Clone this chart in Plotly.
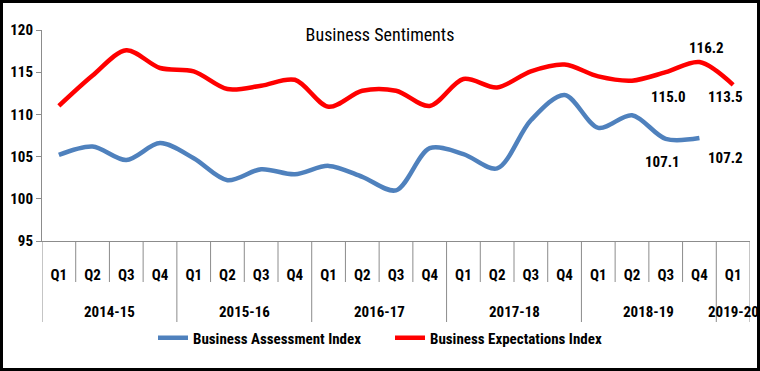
import plotly.graph_objects as go

years = ["2014-15", "2015-16", "2016-17", "2017-18", "2018-19", "2019-20"]
quarters_per_year = [4, 4, 4, 4, 4, 1]
quarters = ["Q1", "Q2", "Q3", "Q4"] * 5 + ["Q1"]

assessment = [105.2, 106.2, 104.6, 106.6, 104.8, 102.2, 103.5, 102.9, 103.9, 102.6,
              101.0, 106.0, 105.3, 103.6, 109.3, 112.3, 108.4, 109.9, 107.1, 107.2]
expectations = [111.0, 114.6, 117.6, 115.5, 115.1, 113.0, 113.4, 114.1, 110.9, 112.8,
                112.8, 111.0, 114.2, 113.2, 115.1, 115.9, 114.5, 114.0, 115.0, 116.2, 113.5]

# labelled points: (series, index, text, xshift, yshift)
value_labels = [
    ("a", 18, "107.1", -3, -23),
    ("a", 19, "107.2", 26, -20),
    ("e", 18, "115.0", 3, -25),
    ("e", 19, "116.2", 7, 14),
    ("e", 20, "113.5", -8, -12),
]

FONT = "Liberation Sans Narrow, Roboto Condensed, Arial Narrow, sans-serif"
AXIS_GRAY = "#8C8C8C"

L, R, T, B = 42, 10, 30, 130
W, H = 760, 371
pw, ph = W - L - R, H - T - B

fig = go.Figure()
fig.add_trace(go.Scatter(
    x=list(range(len(assessment))), y=assessment, name="Business Assessment Index",
    mode="lines", line=dict(color="#4F81BD", width=4.5, shape="spline", smoothing=0.9),
))
fig.add_trace(go.Scatter(
    x=list(range(len(expectations))), y=expectations, name="Business Expectations Index",
    mode="lines", line=dict(color="#FF0000", width=4.5, shape="spline", smoothing=0.9),
))

series = {"a": assessment, "e": expectations}
for s, i, txt, dx, dy in value_labels:
    fig.add_annotation(x=i, y=series[s][i], xref="x", yref="y", text=txt,
                       showarrow=False, xshift=dx, yshift=dy,
                       font=dict(family=FONT, size=15, color="black", weight="bold"))

# quarter boundary ticks and year dividers
n = len(quarters)
q_tick = -(282 - (H - B)) / ph
y_div = -(322 - (H - B)) / ph
starts = []
pos = 0
for cnt in quarters_per_year:
    starts.append(pos)
    pos += cnt
for b in range(n + 1):
    is_div = b in starts or b == n
    fig.add_shape(type="line", xref="x", yref="paper", x0=b - 0.5, x1=b - 0.5,
                  y0=0, y1=y_div if is_div else q_tick,
                  line=dict(color=AXIS_GRAY, width=1))

# year labels
for yname, st, cnt in zip(years, starts, quarters_per_year):
    fig.add_annotation(x=st + (cnt - 1) / 2, y=-(312 - (H - B)) / ph, xref="x", yref="paper",
                       text=yname, showarrow=False, yanchor="middle",
                       font=dict(family=FONT, size=15, color="black", weight="bold"))

fig.update_layout(
    width=W, height=H,
    margin=dict(l=L, r=R, t=T, b=B, autoexpand=False),
    paper_bgcolor="white", plot_bgcolor="white",
    font=dict(family=FONT, size=15, color="black", weight="bold"),
    title=dict(text="Business Sentiments", x=(380) / W, xanchor="center",
               y=1 - 35 / H, yanchor="middle",
               font=dict(family=FONT, size=18, color="black", weight="normal")),
    showlegend=True,
    legend=dict(orientation="h", x=(153 - L) / pw, xanchor="left",
                yref="container", y=1 - 338 / H, yanchor="middle",
                font=dict(family=FONT, size=15, color="black", weight="bold"),
                itemwidth=30, bgcolor="rgba(0,0,0,0)",
                entrywidth=192, entrywidthmode="pixels"),
    xaxis=dict(range=[-0.5, n - 0.5], tickmode="array", tickvals=list(range(n)),
               ticktext=quarters, showline=True, linecolor=AXIS_GRAY, linewidth=1,
               ticks="", ticklabelstandoff=20, showgrid=False, zeroline=False,
               automargin=False,
               tickfont=dict(family=FONT, size=15, color="black", weight="bold")),
    yaxis=dict(range=[95, 120], dtick=5, showline=True, linecolor=AXIS_GRAY, linewidth=1,
               ticks="outside", ticklen=5, tickcolor=AXIS_GRAY, showgrid=False,
               zeroline=False, automargin=False,
               tickfont=dict(family=FONT, size=15, color="black", weight="bold")),
)

fig.add_shape(type="rect", xref="paper", yref="paper",
              x0=(1.5 - L) / pw, x1=(W - 1.5 - L) / pw,
              y0=((H - B) - (H - 1.5)) / ph, y1=((H - B) - 1.5) / ph,
              line=dict(color="black", width=3), fillcolor="rgba(0,0,0,0)", layer="below")

fig.write_html("out.html", config={"displayModeBar": False},
               post_script="document.body.style.margin='0px';")
